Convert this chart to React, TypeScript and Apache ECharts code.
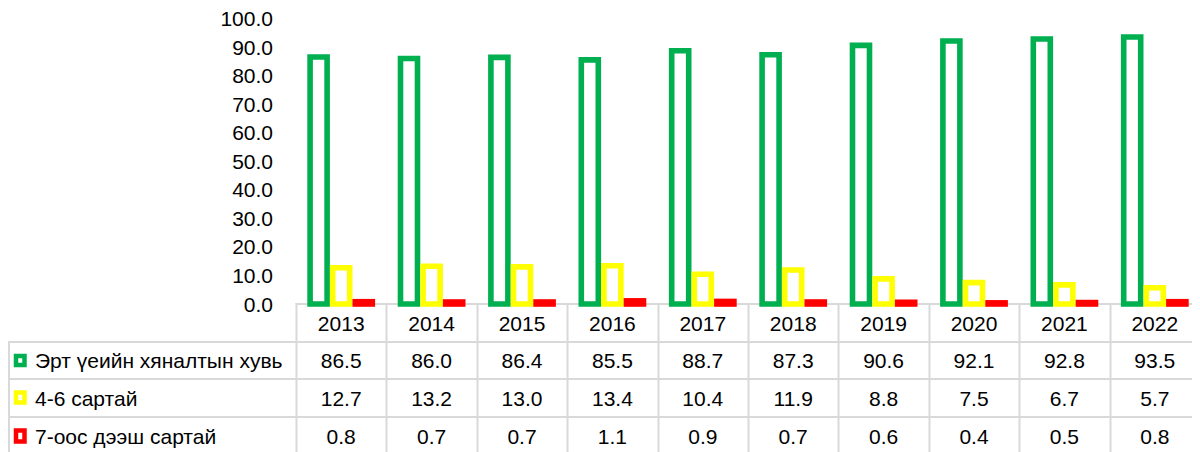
import React, { useEffect, useRef } from "react";
import * as echarts from "echarts";

const years = ["2013", "2014", "2015", "2016", "2017", "2018", "2019", "2020", "2021", "2022"];
const seriesNames = ["Эрт үеийн хяналтын хувь", "4-6 сартай", "7-оос дээш сартай"];
const earlyCare = [86.5, 86.0, 86.4, 85.5, 88.7, 87.3, 90.6, 92.1, 92.8, 93.5];
const months4to6 = [12.7, 13.2, 13.0, 13.4, 10.4, 11.9, 8.8, 7.5, 6.7, 5.7];
const months7plus = [0.8, 0.7, 0.7, 1.1, 0.9, 0.7, 0.6, 0.4, 0.5, 0.8];
const seriesColors = ["#00B050", "#FFFF00", "#FF0000"];

const FONT = "Liberation Sans";
const FS = 21;
const LINE = "#d9d9d9";
const BAR_W = 17;
const BAR_STEP = 22.6;
const BORDER = 5.6;

export default function App() {
  const ref = useRef<HTMLDivElement>(null);
  useEffect(() => {
    if (!ref.current) return;
    const chart = echarts.init(ref.current, null, { renderer: "svg" });
    const allData = [earlyCare, months4to6, months7plus];
    const gridLeft = 288;
    const gridTop = 10;
    const gridBottom = 148;
    const W = 1192;
    const H = 444;
    const nSeries = allData.length;
    chart.setOption({
      animation: false,
      textStyle: { fontFamily: FONT },
      grid: { left: gridLeft, right: 0, top: gridTop, bottom: gridBottom, containLabel: false },
      xAxis: {
        type: "category",
        data: years,
        axisTick: { show: false },
        axisLine: { show: true, lineStyle: { color: LINE, width: 2 } },
        axisLabel: { color: "#000", fontSize: FS, fontFamily: FONT, margin: 9 },
        z: 0,
      },
      yAxis: {
        type: "value",
        min: 0,
        max: 100,
        interval: 10,
        axisLine: { show: false },
        axisTick: { show: false },
        splitLine: { show: false },
        axisLabel: {
          color: "#000",
          fontSize: FS,
          fontFamily: FONT,
          margin: 23,
          formatter: (v: number) => v.toFixed(1),
        },
      },
      series: allData.map((d, s) => ({
        type: "custom",
        name: seriesNames[s],
        data: d.map((v, i) => [i, v]),
        encode: { x: 0, y: 1 },
        z: 3,
        renderItem: (params: any, api: any) => {
          const idx = api.value(0);
          const val = api.value(1);
          const base = api.coord([idx, 0]);
          const top = api.coord([idx, val]);
          const cx = base[0] + (s - (nSeries - 1) / 2) * BAR_STEP;
          return {
            type: "rect",
            shape: { x: cx - BAR_W / 2, y: top[1], width: BAR_W, height: base[1] - top[1] },
            style: { fill: "#ffffff", stroke: seriesColors[s], lineWidth: BORDER },
          };
        },
      })),
    });

    const plotBottom = H - gridBottom;
    const colW = (W - gridLeft) / years.length;
    const rowLines = [334, 371, 409];
    const rowCenters = [352.5, 390, 428];
    const markerCenters = [352.5, 389.5, 428];
    const markerHeights = [9, 10, 11];
    const els: any[] = [];
    for (let i = 0; i <= years.length; i++) {
      const x = Math.round(gridLeft + i * colW) + 0.5;
      els.push({ type: "line", shape: { x1: x, y1: plotBottom + 1, x2: x, y2: H }, style: { stroke: LINE, lineWidth: 2 } });
    }
    els.push({ type: "line", shape: { x1: 1, y1: rowLines[0], x2: 1, y2: H }, style: { stroke: LINE, lineWidth: 2 } });
    rowLines.forEach((y) => {
      els.push({ type: "line", shape: { x1: 0, y1: y, x2: W, y2: y }, style: { stroke: LINE, lineWidth: 2 } });
    });
    allData.forEach((d, r) => {
      els.push({
        type: "rect",
        shape: { x: 8, y: markerCenters[r] - markerHeights[r] / 2, width: 8.5, height: markerHeights[r] },
        style: { fill: "#fff", stroke: seriesColors[r], lineWidth: 4.5 },
      });
      els.push({
        type: "text",
        x: 27,
        y: rowCenters[r],
        style: { text: seriesNames[r], fontFamily: FONT, fontSize: FS, fill: "#000", align: "left", verticalAlign: "middle" },
      });
      d.forEach((v, i) => {
        const px = chart.convertToPixel({ xAxisIndex: 0 }, years[i]) as number;
        els.push({
          type: "text",
          x: px,
          y: rowCenters[r],
          style: { text: v.toFixed(1), fontFamily: FONT, fontSize: FS, fill: "#000", align: "center", verticalAlign: "middle" },
        });
      });
    });
    chart.setOption({ graphic: els });
    return () => chart.dispose();
  }, []);
  return <div ref={ref} style={{ width: 1192, height: 444 }} />;
}
